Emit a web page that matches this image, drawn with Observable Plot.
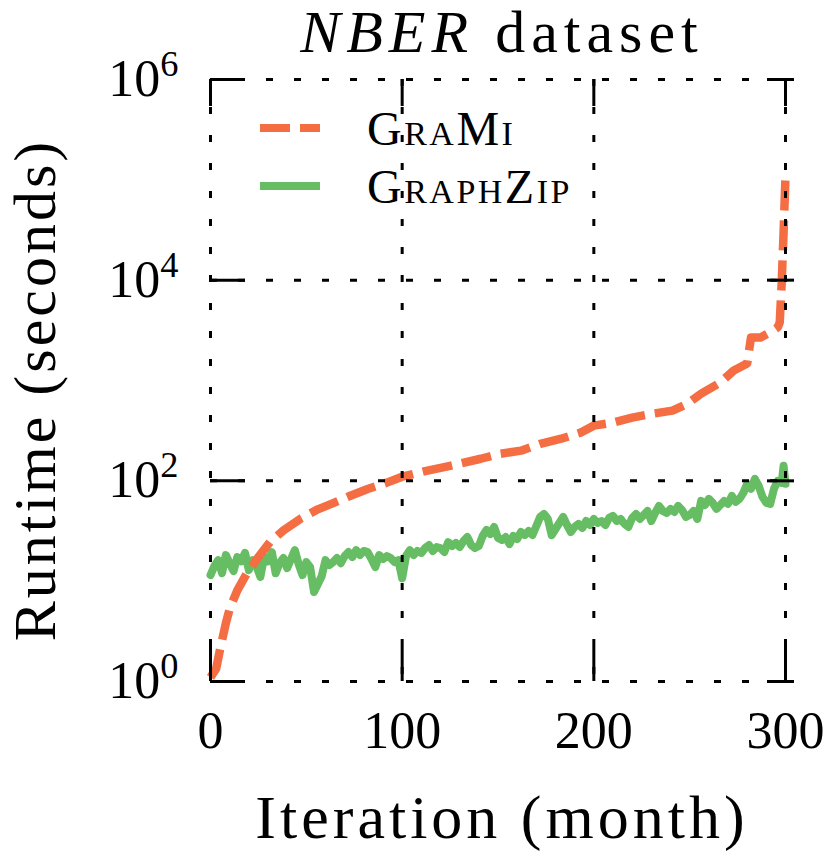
<!DOCTYPE html>
<html>
<head>
<meta charset="utf-8">
<script src="https://cdn.jsdelivr.net/npm/d3@7"></script>
<script src="https://cdn.jsdelivr.net/npm/@observablehq/plot@0.6"></script>
<style>
  html, body { margin: 0; padding: 0; background: #ffffff; }
  #chart { width: 829px; height: 856px; }
</style>
</head>
<body>
<div id="chart"></div>
<script>
// ---- data ----
const title = "dataset";
const titleItalic = "NBER";
const xLabel = "Iteration (month)";
const yLabel = "Runtime (seconds)";
const seriesNames = ["GraMi", "GraphZip"];
const seriesColors = ["#f46d43", "#66bd63"];
const xTicks = [0, 100, 200, 300];
const yTicks = [1, 1e2, 1e4, 1e6];

const gramiMonth = [0,3,5,8,10,14,19,25,31,38,47,56,64,73,82,92,100,112,125,141,151,162,172,183,193,200,210,220,231,241,249,256,266,273,280,282,287,293,296,297,298,299,300];
const gramiRuntime = [1.1,1.35,2.1,3.8,5.3,8.1,12,17.4,24.5,32,42,52,60,71,83,96,110,125,141,166,186,200,234,263,302,355,380,427,468,501,589,741,955,1259,1479,2690,2690,3100,3390,3800,9300,30000,110000];

const graphzipMonth = [
  0,2,4,6,8,10,12,14,16,18,20,22,24,26,28,30,32,34,36,38,
  40,42,44,46,48,50,52,54,56,58,60,62,64,66,68,70,72,74,76,78,
  80,82,84,86,88,90,92,94,96,98,100,102,104,106,108,110,112,114,116,118,
  120,122,124,126,128,130,132,134,136,138,140,142,144,146,148,150,152,154,156,158,
  160,162,164,166,168,170,172,174,176,178,180,182,184,186,188,190,192,194,196,198,
  200,202,204,206,208,210,212,214,216,218,220,222,224,226,228,230,232,234,236,238,
  240,242,244,246,248,250,252,254,256,258,260,262,264,266,268,270,272,274,276,278,
  280,282,284,286,288,290,292,294,296,298,299,300];
const graphzipRuntime = [
  11.5,14.1,16.2,12.0,18.2,15.1,12.6,17.4,15.8,19.1,12.9,16.2,14.1,11.0,17.4,15.8,19.5,12.0,15.1,17.0,
  13.5,16.6,20.4,14.8,11.5,15.5,13.8,7.8,9.3,11.2,16.2,14.5,15.5,17.0,15.1,17.8,19.5,17.4,20.4,18.2,
  20.0,19.5,16.6,13.8,18.2,16.6,17.8,17.0,15.5,16.2,10.7,17.8,20.4,18.2,20.0,19.1,21.4,22.9,20.0,21.9,
  21.4,19.5,24.5,22.4,24.0,21.9,25.1,27.5,22.9,21.4,22.4,28.2,32.4,29.5,34.7,26.9,25.7,27.5,23.4,28.2,
  26.3,30.9,28.8,31.6,28.8,35.5,43.7,46.8,41.7,28.8,33.1,38.0,43.7,36.3,30.9,34.7,37.2,33.9,39.8,36.3,
  41.7,38.0,39.8,36.3,42.7,44.7,39.8,41.7,37.2,34.7,42.7,46.8,41.7,45.7,50.1,39.8,47.9,56.2,50.1,47.9,
  52.5,49.0,56.2,51.3,43.7,45.7,50.1,41.7,63.1,57.5,66.1,60.3,52.5,57.5,63.1,58.9,70.8,61.7,66.1,75.9,
  93.3,83.2,104.7,89.1,69.2,60.3,58.9,83.2,100,95.5,141.3,93.3];

// ---- tables built from the arrays ----
const grami = gramiMonth.map((m, i) => ({month: m, runtime: gramiRuntime[i]}));
const graphzip = graphzipMonth.map((m, i) => ({month: m, runtime: graphzipRuntime[i]}));

const FONT = "'Liberation Serif', 'DejaVu Serif', serif";
const W = 829, H = 856;
const mL = 210, mR = 44, mT = 79, mB = 175;
const fw = W - mL - mR, fh = H - mT - mB;

const plot = Plot.plot({
  width: W, height: H,
  marginLeft: mL, marginRight: mR, marginTop: mT, marginBottom: mB,
  style: {fontFamily: FONT, background: "#ffffff", color: "#000000", overflow: "visible"},
  x: {domain: [0, 300], label: null},
  y: {type: "log", domain: [1, 1e6], label: null},
  marks: [
    Plot.line(graphzip, {x: "month", y: "runtime", stroke: seriesColors[1], strokeWidth: 8, strokeLinejoin: "round", strokeLinecap: "round"}),
    Plot.line(grami, {x: "month", y: "runtime", stroke: seriesColors[0], strokeWidth: 8.5, strokeDasharray: "30,10", strokeLinecap: "butt", strokeLinejoin: "round"}),
    Plot.gridX(xTicks, {stroke: "#000", strokeOpacity: 1, strokeWidth: 3, strokeDasharray: "7,21"}),
    Plot.gridY(yTicks, {stroke: "#000", strokeOpacity: 1, strokeWidth: 3, strokeDasharray: "7,21"}),
    // bottom / top ticks (inward)
    Plot.ruleX(xTicks, {stroke: "#000", strokeWidth: 3, insetTop: fh - 35}),
    Plot.ruleX(xTicks, {stroke: "#000", strokeWidth: 3, insetBottom: fh - 27}),
    // left ticks (inward) and right ticks (in-out)
    Plot.ruleY(yTicks, {stroke: "#000", strokeWidth: 3, insetRight: fw - 35}),
    Plot.ruleY(yTicks, {stroke: "#000", strokeWidth: 3, insetLeft: fw - 18, insetRight: -9}),
    Plot.axisX(xTicks, {tickSize: 0, tickPadding: 30, fontSize: 52, label: null}),
    Plot.axisY(yTicks, {tickSize: 0, tickPadding: 32, fontSize: 52, label: null,
      tickFormat: d => String(Math.round(Math.log10(d)))})
  ]
});

document.getElementById("chart").appendChild(plot);
const svg = d3.select(plot);

// superscript tick labels 10^n
svg.selectAll('[aria-label="y-axis tick label"] text').each(function() {
  const exp = this.textContent;
  const t = d3.select(this);
  t.text(null);
  t.append("tspan").text("10");
  t.append("tspan").attr("dy", "-0.55em").attr("font-size", "0.7em").text(exp);
});

function addText(parent) {
  return parent.append("text")
    .style("font-family", FONT)
    .style("fill", "#000");
}

// title
const tt = addText(svg)
  .attr("x", 502).attr("y", 52)
  .attr("text-anchor", "middle")
  .style("font-size", "60px")
  .style("letter-spacing", "6px");
tt.append("tspan").style("font-style", "italic").text(titleItalic);
tt.append("tspan").text(" " + title);

// axis labels
addText(svg)
  .attr("x", 502).attr("y", 838)
  .attr("text-anchor", "middle")
  .style("font-size", "62px")
  .style("letter-spacing", "4px")
  .text(xLabel);
addText(svg)
  .attr("transform", "translate(55,390) rotate(-90)")
  .attr("text-anchor", "middle")
  .style("font-size", "60px")
  .style("letter-spacing", "3px")
  .text(yLabel);

// legend
const leg = svg.append("g");
const legY = [128, 186];
const legDash = ["30,10", null];
seriesNames.forEach((name, i) => {
  leg.append("line")
    .attr("x1", 260).attr("x2", 320).attr("y1", legY[i]).attr("y2", legY[i])
    .attr("stroke", seriesColors[i]).attr("stroke-width", 8)
    .attr("stroke-dasharray", legDash[i]);
  addText(leg)
    .attr("x", 367).attr("y", legY[i] + 17)
    .attr("text-anchor", "start")
    .style("font-size", "48px")
    .style("font-variant", "small-caps")
    .style("letter-spacing", "2.5px")
    .text(name);
});
</script>
</body>
</html>
